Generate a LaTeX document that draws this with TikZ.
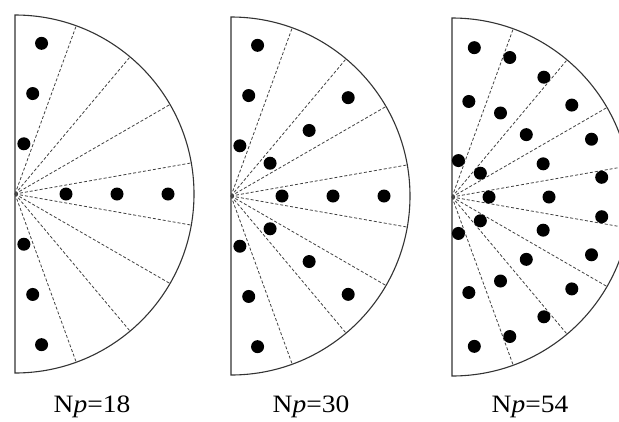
\documentclass[tikz,border=0pt]{standalone}
\usepackage{fontspec}
\setmainfont{Liberation Serif}
\usetikzlibrary{positioning}

\begin{document}
\begin{tikzpicture}[
    x=1pt, y=-1pt,
    rim/.style={draw=black!80, line width=1.1pt},
    spoke/.style={draw=black!75, dash pattern=on 3pt off 2pt, line width=0.8pt},
    dot/.style={fill=black},
    caption/.style={font=\fontsize{25}{29}\selectfont, anchor=base, inner sep=0pt}
]
\useasboundingbox (0,0) rectangle (619,421);
\clip (0,0) rectangle (619,421);

% centres of the three half disks
\coordinate (hda) at (15,194);
\coordinate (hdb) at (231,196);
\coordinate (hdc) at (452,197);

% outline and dashed sector lines
\foreach \hd in {hda,hdb,hdc} {
    \draw[rim] (\hd) ++(90:179) arc[start angle=90, end angle=-90, radius=179] -- cycle;
    \foreach \t in {-70,-50,...,70}
        \draw[spoke] (\hd) -- ++(\t:179);
}

% points, Np=18
\foreach \t in {-80,0,80}
    \foreach \r in {51,102,153}
        \fill[dot] (hda) ++(\t:\r) circle[radius=6.5];

% points, Np=30
\foreach \t in {-80,-40,...,80}
    \foreach \r in {51,102,153}
        \fill[dot] (hdb) ++(\t:\r) circle[radius=6.5];

% points, Np=54
\foreach \t in {-80,-40,...,80}
    \fill[dot] (hdc) ++(\t:37) circle[radius=6.5];
\foreach \t in {-80,-60,...,80}
    \fill[dot] (hdc) ++(\t:97) circle[radius=6.5];
\foreach \t in {-81.5,-67.5,-52.5,-37.5,-22.5,-7.5,7.5,22.5,37.5,52.5,67.5,81.5}
    \fill[dot] (hdc) ++(\t:151) circle[radius=6.5];

% captions
\node[caption] (capa) at (92,412) {\scalebox{1.1}[1]{N\textit{p}=18}};
\node[caption] (capb) at (311,412) {\scalebox{1.1}[1]{N\textit{p}=30}};
\node[caption] (capc) at (530,412) {\scalebox{1.1}[1]{N\textit{p}=54}};
\end{tikzpicture}
\end{document}
